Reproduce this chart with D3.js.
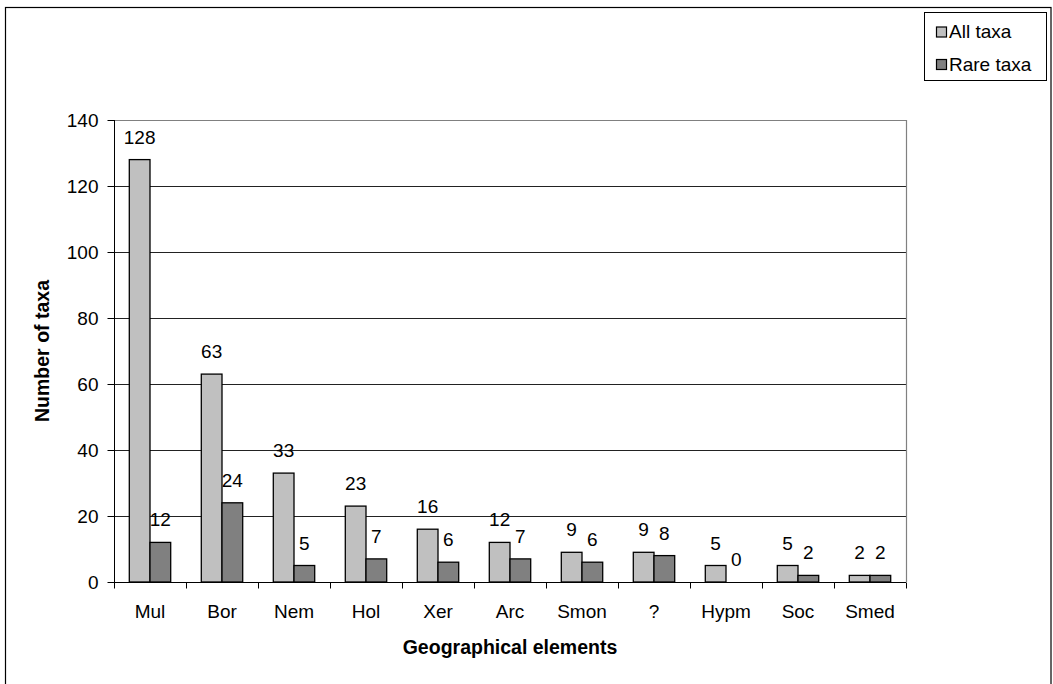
<!DOCTYPE html>
<html><head><meta charset="utf-8">
<script src="https://cdn.jsdelivr.net/npm/d3@7"></script>
<style>body{margin:0;background:#fff}svg{display:block;font-family:"Liberation Sans",Arial,sans-serif}</style>
</head><body>
<svg id="c" width="1053" height="684"></svg>
<script>
const categories = ["Mul","Bor","Nem","Hol","Xer","Arc","Smon","?","Hypm","Soc","Smed"];
const seriesNames = ["All taxa","Rare taxa"];
const allTaxa = [128,63,33,23,16,12,9,9,5,5,2];
const rareTaxa = [12,24,5,7,6,7,6,8,0,2,2];
const yTicks = [0,20,40,60,80,100,120,140];
const colors = ["#c0c0c0","#808080"];

const FS = 19;
const svg = d3.select("#c");
const L = 114, R = 906, T = 120, B = 582;

svg.append("rect").attr("x",5.5).attr("y",7.5).attr("width",1045.5).attr("height",700)
  .attr("fill","#fff").attr("stroke","#000").attr("stroke-width",1.2);

const x0 = d3.scaleBand().domain(categories).range([L,R]).paddingInner(0).paddingOuter(0);
const x1 = d3.scaleBand().domain(seriesNames).range([0,x0.bandwidth()]).paddingInner(0).paddingOuter(0.739);
const y = d3.scaleLinear().domain([0,140]).range([B,T]);

// gridlines
svg.append("g").selectAll("line").data(yTicks.filter(d=>d>0 && d<140)).join("line")
  .attr("x1",L).attr("x2",R).attr("y1",d=>Math.round(y(d))+0.5).attr("y2",d=>Math.round(y(d))+0.5)
  .attr("stroke","#222").attr("stroke-width",1);
// plot border top/right
svg.append("path").attr("d",`M${L},${T+0.5}H${R+0.5}V${B}`).attr("fill","none").attr("stroke","#808080").attr("stroke-width",1.2);

const data = categories.map((c,i)=>({c, vals:[allTaxa[i], rareTaxa[i]]}));
const g = svg.append("g").selectAll("g").data(data).join("g").attr("transform",d=>`translate(${x0(d.c)},0)`);
g.selectAll("rect").data(d=>d.vals.map((v,j)=>({s:seriesNames[j],v,j}))).join("rect")
  .attr("x",d=>x1(d.s)).attr("width",x1.bandwidth())
  .attr("y",d=>y(d.v)).attr("height",d=>B-y(d.v))
  .attr("fill",d=>colors[d.j]).attr("stroke","#000").attr("stroke-width",1.3);
g.selectAll("text").data(d=>d.vals.map((v,j)=>({s:seriesNames[j],v,j}))).join("text")
  .attr("x",d=>x1(d.s)+x1.bandwidth()/2).attr("y",d=>y(d.v)-16)
  .attr("text-anchor","middle").attr("font-size",FS).text(d=>d.v);

// y axis
const ya = d3.axisLeft(y).tickValues(yTicks).tickSize(7).tickPadding(9);
const yg = svg.append("g").attr("transform",`translate(${L+0.5},0)`).call(ya);
yg.select(".domain").attr("d",`M0,${T}V${B}`).attr("stroke","#000");
yg.selectAll(".tick line").attr("stroke","#000");
yg.selectAll("text").attr("font-size",FS).attr("font-family","Liberation Sans,Arial,sans-serif").attr("fill","#000");

// x axis
const xa = d3.axisBottom(x0).tickSize(0).tickPadding(22);
const xg = svg.append("g").attr("transform",`translate(0,${B+0.5})`).call(xa);
xg.select(".domain").attr("d",`M${L},0H${R}`).attr("stroke","#000");
xg.selectAll("text").attr("font-size",FS).attr("font-family","Liberation Sans,Arial,sans-serif").attr("fill","#000");
xg.append("g").selectAll("line").data(categories.concat(["_end"])).join("line")
  .attr("x1",(d,i)=>L+i*x0.step()+0.5).attr("x2",(d,i)=>L+i*x0.step()+0.5)
  .attr("y1",0).attr("y2",6).attr("stroke","#000");

// axis titles
svg.append("text").attr("x",(L+R)/2).attr("y",654).attr("text-anchor","middle")
  .attr("font-size",19.5).attr("font-weight","bold").text("Geographical elements");
svg.append("text").attr("transform",`translate(49,${(T+B)/2}) rotate(-90)`).attr("text-anchor","middle")
  .attr("font-size",19.5).attr("font-weight","bold").text("Number of taxa");

// legend
const lg = svg.append("g");
lg.append("rect").attr("x",924.5).attr("y",12.5).attr("width",122).attr("height",68)
  .attr("fill","#fff").attr("stroke","#000").attr("stroke-width",1);
seriesNames.forEach((s,i)=>{
  const yy = 32 + i*32.5;
  lg.append("rect").attr("x",936.5).attr("y",yy-5).attr("width",10).attr("height",10)
    .attr("fill",colors[i]).attr("stroke","#000").attr("stroke-width",1.2);
  lg.append("text").attr("x",949).attr("y",yy+6).attr("font-size",FS).text(s);
});
</script>
</body></html>
